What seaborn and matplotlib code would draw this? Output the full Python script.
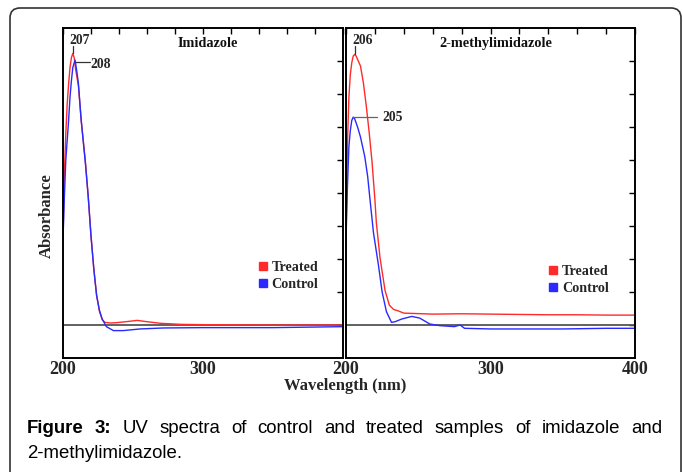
import numpy as np
import pandas as pd
import matplotlib
matplotlib.use("Agg")
import matplotlib.pyplot as plt
import matplotlib.transforms as mtransforms
import seaborn as sns
from matplotlib.lines import Line2D
from matplotlib.patches import FancyBboxPatch

# ---------------- data (absorbance in arbitrary tick units) ----------------
imid_treated_wl = [200, 201, 202, 203, 204, 205, 206, 207, 208, 209, 211, 213, 216, 218, 220, 222,
                   224, 226, 228, 230, 234, 238, 245, 253, 260, 270, 284, 300, 350, 400]
imid_treated_abs = [2.6, 4.6, 5.8, 6.7, 7.3, 7.8, 8.1, 8.23, 8.1, 7.75, 7.25, 6.2, 4.95, 3.9, 2.7, 1.7,
                    0.9, 0.42, 0.16, 0.08, 0.06, 0.07, 0.1, 0.14, 0.1, 0.05, 0.02, 0.01, 0.0, 0.0]

imid_control_wl = [200, 201, 202, 203, 204, 205, 206, 207, 208.6, 210, 211, 213, 216, 218, 220, 222,
                   224, 226, 228, 231, 236, 243, 255, 272, 300, 350, 400]
imid_control_abs = [2.6, 3.9, 5.0, 5.6, 6.2, 6.9, 7.4, 7.8, 8.03, 7.65, 7.32, 6.2, 4.9, 3.9, 2.7, 1.7,
                    0.9, 0.45, 0.18, -0.05, -0.17, -0.17, -0.12, -0.09, -0.08, -0.08, -0.05]

meth_treated_wl = [200, 201, 202, 203, 204, 205, 206, 207, 208, 210, 212, 214, 216, 218, 220, 221,
                   223.5, 227, 230, 233, 236, 240, 260, 280, 300, 320, 340, 360, 380, 400]
meth_treated_abs = [2.5, 5.5, 6.9, 7.6, 7.95, 8.15, 8.2, 8.15, 8.05, 7.85, 7.35, 6.65, 5.85, 4.95, 3.8, 3.1,
                    2.05, 1.05, 0.6, 0.47, 0.43, 0.36, 0.33, 0.34, 0.33, 0.32, 0.31, 0.31, 0.30, 0.30]

meth_control_wl = [200, 201, 202, 203, 204, 205, 206, 208, 210, 213, 215, 216.5, 219, 222.5, 225, 228,
                   231.5, 234, 238.5, 245.5, 251, 258, 265, 275, 279, 282, 300, 350, 380, 400]
meth_control_abs = [2.6, 4.2, 5.4, 5.9, 6.2, 6.3, 6.25, 6.0, 5.7, 5.1, 4.5, 3.85, 2.8, 1.8, 1.0, 0.4,
                    0.08, 0.1, 0.18, 0.26, 0.21, 0.03, -0.02, -0.05, 0.0, -0.1, -0.12, -0.12, -0.1, -0.1]

panel_titles = ["Imidazole", "2-methylimidazole"]
sample_names = ["Treated", "Control"]
peak_labels_imid = ["207", "208"]
peak_labels_meth = ["206", "205"]
xtick_labels_left = {200: "200", 300: "300"}
xtick_labels_right = {200: "200", 300: "300", 400: "400"}

caption_words = ["Figure", "3:", "UV", "spectra", "of", "control", "and", "treated",
                 "samples", "of", "imidazole", "and"]
caption_line2 = "2-methylimidazole."


def make_df(wl_t, ab_t, wl_c, ab_c):
    return pd.concat([
        pd.DataFrame({"wavelength": wl_t, "absorbance": ab_t, "sample": "Treated"}),
        pd.DataFrame({"wavelength": wl_c, "absorbance": ab_c, "sample": "Control"}),
    ], ignore_index=True)


df_imid = make_df(imid_treated_wl, imid_treated_abs, imid_control_wl, imid_control_abs)
df_meth = make_df(meth_treated_wl, meth_treated_abs, meth_control_wl, meth_control_abs)

# ---------------- styling ----------------
sns.set_theme(style="white")
plt.rcParams['font.family'] = ['Liberation Serif', 'DejaVu Serif']

W, H = 683, 472
fig = plt.figure(figsize=(W / 100, H / 100), dpi=100)
fig.patch.set_facecolor("white")

ax1 = fig.add_axes([63 / W, 1 - 358 / H, 280 / W, 330 / H])
ax2 = fig.add_axes([346 / W, 1 - 358 / H, 289 / W, 330 / H])

palette = {"Treated": "#ff2a2a", "Control": "#2a2aff"}

for ax, df, title, tlabels in [(ax1, df_imid, panel_titles[0], xtick_labels_left),
                               (ax2, df_meth, panel_titles[1], xtick_labels_right)]:
    ax.set_facecolor("white")
    ax.axhline(0, color="#555555", lw=1.3, zorder=1)
    sns.lineplot(data=df, x="wavelength", y="absorbance", hue="sample",
                 hue_order=sample_names, palette=palette, estimator=None,
                 linewidth=1.0, legend=False, ax=ax, zorder=2)
    ax.set_xlim(200, 400)
    ax.set_ylim(-1, 9)
    ticks = list(range(200, 401, 20))
    ax.set_xticks(ticks)
    ax.set_xticklabels([tlabels.get(t, "") for t in ticks], fontweight="bold", fontsize=13)
    ax.set_yticks(range(0, 9))
    ax.set_yticklabels([])
    ax.tick_params(axis="both", direction="in", top=True, right=True, length=4,
                   width=1.0, color="black", pad=2)
    ax.set_xlabel("")
    ax.set_ylabel("")
    for s in ax.spines.values():
        s.set_visible(True)
        s.set_color("black")
        s.set_linewidth(1.4)
    ax.text(0.518, 0.952, title, transform=ax.transAxes, ha="center", va="center",
            fontweight="bold", fontsize=10.3, color="#111111")

# legends
for ax, xy in [(ax1, (0.70, 0.295)), (ax2, (0.703, 0.283))]:
    handles = [Line2D([], [], marker="s", linestyle="", color=palette[s], markersize=6)
               for s in sample_names]
    ax.legend(handles, sample_names, loc="upper left", bbox_to_anchor=xy,
              frameon=False, handlelength=0.6, handletextpad=0.3, labelspacing=0.28,
              borderpad=0, borderaxespad=0,
              prop={"weight": "bold", "size": 10.2, "family": "Liberation Serif"})

# peak annotations
lc = "#333333"
ax1.plot([207, 207], [8.23, 8.45], color=lc, lw=0.9)
ax1.text(212.1, 8.62, peak_labels_imid[0], ha="center", va="center", fontweight="bold", fontsize=9.8)
ax1.plot([208.6, 219.3], [7.97, 7.97], color=lc, lw=0.9)
ax1.text(219.8, 7.9, peak_labels_imid[1], ha="left", va="center", fontweight="bold", fontsize=9.8)

ax2.plot([206, 206], [8.2, 8.45], color=lc, lw=0.9)
ax2.text(211.8, 8.62, peak_labels_meth[0], ha="center", va="center", fontweight="bold", fontsize=9.8)
ax2.plot([205, 221.5], [6.3, 6.3], color="#666666", lw=0.9)
ax2.text(225.5, 6.3, peak_labels_meth[1], ha="left", va="center", fontweight="bold", fontsize=9.8)

# axis labels
fig.text(345 / W, 1 - 386 / H, "Wavelength (nm)", ha="center", va="center",
         fontweight="bold", fontsize=12)
fig.text(47 / W, 1 - 216 / H, "Absorbance", ha="center", va="center", rotation=90,
         fontweight="bold", fontsize=12)

# outer rounded frame (pixel coords)
box = FancyBboxPatch((10, -30), 671, 464 + 30, boxstyle="round,pad=0,rounding_size=10",
                     transform=mtransforms.IdentityTransform(), facecolor="none",
                     edgecolor="#333333", linewidth=1.2)
fig.add_artist(box)

# caption (justified first line)
cap_font = ["Liberation Sans", "DejaVu Sans"]
cap_size = 13.4
y1 = 1 - 433 / H
renderer = fig.canvas.get_renderer()
texts = []
for i, w in enumerate(caption_words):
    t = fig.text(0, y1, w, ha="left", va="baseline", family=cap_font, fontsize=cap_size,
                 fontweight="bold" if i < 2 else "normal", color="black")
    texts.append(t)
widths = [t.get_window_extent(renderer).width for t in texts]
x_left, x_right = 27, 662
gap = (x_right - x_left - sum(widths)) / (len(texts) - 1)
x = x_left
for t, wdt in zip(texts, widths):
    t.set_x(x / W)
    x += wdt + gap
fig.text(x_left / W, 1 - 458 / H, caption_line2, ha="left", va="baseline", family=cap_font,
         fontsize=cap_size, color="black")

fig.savefig("out.png", dpi=100, facecolor="white")
